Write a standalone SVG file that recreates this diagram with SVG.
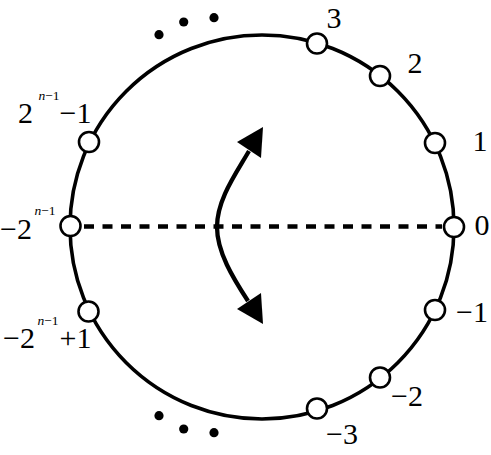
<svg xmlns="http://www.w3.org/2000/svg" width="491" height="455" viewBox="0 0 491 455">
<style>
.ring{fill:none;stroke:#000;stroke-width:3.6}
.node{fill:#fff;stroke:#000;stroke-width:2.6}
.lbl{font-family:"Liberation Serif","DejaVu Serif",serif;font-size:30px;fill:#000}
.sup{font-family:"Liberation Serif","DejaVu Serif",serif;font-size:13.5px;fill:#000}
.dot{fill:#000}
</style>
<rect width="491" height="455" fill="#fff"/>
<circle class="ring" cx="262" cy="227" r="192"/>
<g id="connectors">
<line x1="84" y1="226.5" x2="442" y2="226.5" stroke="#000" stroke-width="4.4" stroke-dasharray="10,8.5"/>
<path d="M249,151 C235,175 217,200 217,227 C217,252 233,278 248,301" fill="none" stroke="#000" stroke-width="4.3"/>
<polygon points="263,127 237,142 261,158" fill="#000"/>
<polygon points="263,324 237,309 261,293" fill="#000"/>
</g>
<g id="dots">
<circle class="dot" cx="159" cy="34.7" r="4.6"/>
<circle class="dot" cx="183.7" cy="22" r="4.6"/>
<circle class="dot" cx="214" cy="17.7" r="4.6"/>
<circle class="dot" cx="159" cy="415.7" r="4.6"/>
<circle class="dot" cx="183.7" cy="429" r="4.6"/>
<circle class="dot" cx="214" cy="432.7" r="4.6"/>
</g>
<g id="n0"><circle class="node" cx="454" cy="227" r="10"/><text class="lbl" x="482" y="235" text-anchor="middle">0</text></g>
<g id="n1"><circle class="node" cx="435" cy="143" r="10"/><text class="lbl" x="480" y="151" text-anchor="middle">1</text></g>
<g id="n2"><circle class="node" cx="380" cy="76" r="10"/><text class="lbl" x="415" y="73" text-anchor="middle">2</text></g>
<g id="n3"><circle class="node" cx="317" cy="43.5" r="10"/><text class="lbl" x="334" y="28" text-anchor="middle">3</text></g>
<g id="nm1"><circle class="node" cx="435" cy="310" r="10"/><text class="lbl" x="472" y="322" text-anchor="middle">−1</text></g>
<g id="nm2"><circle class="node" cx="380" cy="377.5" r="10"/><text class="lbl" x="407" y="406" text-anchor="middle">−2</text></g>
<g id="nm3"><circle class="node" cx="317" cy="408.5" r="10"/><text class="lbl" x="342" y="444" text-anchor="middle">−3</text></g>
<g id="nk1"><circle class="node" cx="89" cy="142" r="10"/><text class="lbl" x="25.5" y="123" text-anchor="middle">2</text><text class="sup" x="49" y="100" text-anchor="middle"><tspan font-style="italic">n</tspan>−1</text><text class="lbl" x="75.5" y="123" text-anchor="middle">−1</text></g>
<g id="nk"><circle class="node" cx="70.5" cy="226" r="10"/><text class="lbl" x="16" y="239" text-anchor="middle">−2</text><text class="sup" x="45" y="215" text-anchor="middle"><tspan font-style="italic">n</tspan>−1</text></g>
<g id="nk2"><circle class="node" cx="88.5" cy="311.5" r="10"/><text class="lbl" x="19" y="348" text-anchor="middle">−2</text><text class="sup" x="48" y="325" text-anchor="middle"><tspan font-style="italic">n</tspan>−1</text><text class="lbl" x="75.5" y="348" text-anchor="middle">+1</text></g>
</svg>
